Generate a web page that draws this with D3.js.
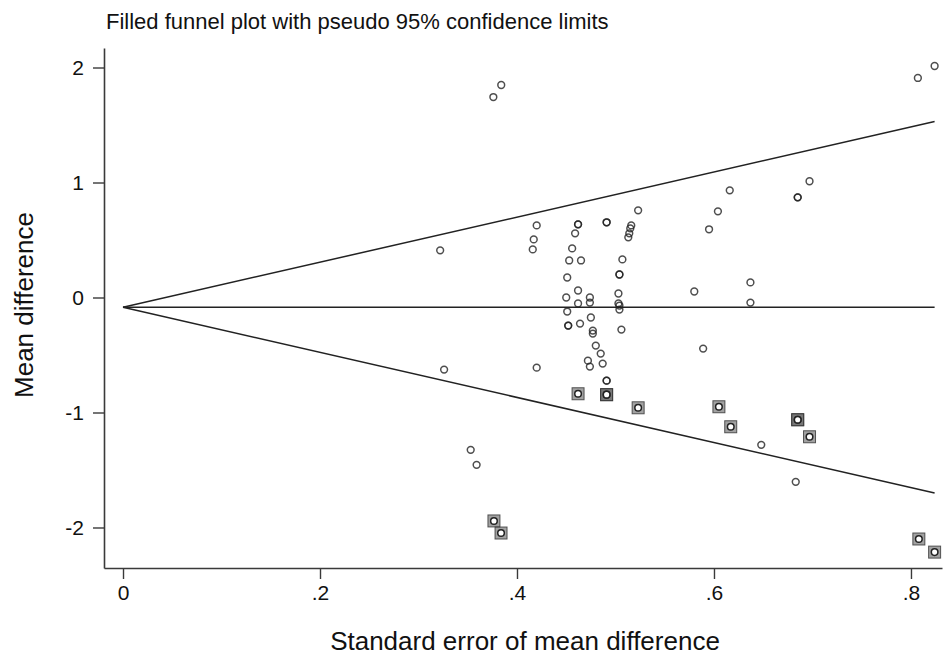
<!DOCTYPE html>
<html>
<head>
<meta charset="utf-8">
<script src="https://cdn.jsdelivr.net/npm/d3@7"></script>
<style>
  html, body { margin: 0; padding: 0; background: #fff; }
  svg { display: block; font-family: "Liberation Sans", Arial, sans-serif; }
</style>
</head>
<body>
<svg id="chart" width="944" height="661"></svg>
<script>
// ---- Data ----
const titleText = "Filled funnel plot with pseudo 95% confidence limits";
const xLabel = "Standard error of mean difference";
const yLabel = "Mean difference";
const xTicks = [0, 0.2, 0.4, 0.6, 0.8];
const xTickLabels = ["0", ".2", ".4", ".6", ".8"];
const yTicks = [-2, -1, 0, 1, 2];
const yTickLabels = ["-2", "-1", "0", "1", "2"];
const pooledEstimate = -0.085;

// observed studies
const obsSe = [0.322,0.326,0.353,0.359,0.376,0.384,0.416,0.417,0.420,0.420,
  0.450,0.451,0.451,0.452,0.452,0.453,0.456,0.459,0.462,0.462,0.462,0.462,
  0.464,0.465,0.472,0.474,0.474,0.474,0.475,0.477,0.477,0.480,0.485,0.487,
  0.491,0.491,0.491,0.491,0.503,0.503,0.504,0.504,0.504,0.504,0.506,0.507,
  0.513,0.514,0.515,0.516,0.523,0.580,0.589,0.595,0.604,0.616,0.637,0.637,
  0.648,0.683,0.685,0.685,0.697,0.807,0.824];
const obsMd = [0.410,-0.627,-1.325,-1.455,1.743,1.848,0.418,0.505,0.627,-0.610,
  0.000,0.174,-0.122,-0.244,-0.244,0.322,0.427,0.558,0.636,0.636,0.061,-0.052,
  -0.227,0.322,-0.549,0.000,-0.044,-0.601,-0.174,-0.288,-0.314,-0.418,-0.488,-0.575,
  -0.723,-0.723,0.654,0.654,0.035,-0.052,-0.070,-0.105,0.200,0.200,-0.279,0.331,
  0.523,0.558,0.601,0.627,0.758,0.052,-0.444,0.593,0.749,0.932,0.131,-0.044,
  -1.281,-1.603,0.871,0.871,1.011,1.909,2.013];

// filled (imputed) studies
const fillSe = [0.462,0.491,0.491,0.523,0.605,0.617,0.685,0.685,0.697,0.3766,0.3838,0.808,0.824];
const fillMd = [-0.837,-0.845,-0.845,-0.959,-0.950,-1.124,-1.063,-1.063,-1.211,-1.943,-2.048,-2.100,-2.214];

// ---- Chart ----
const svg = d3.select("#chart");
const axisColor = "#3a3a3a";

const x = d3.scaleLinear().domain([-0.0193, 0.8315]).range([104, 942]);
const y = d3.scaleLinear().domain([-2.3522, 2.1696]).range([568, 48]);

// title
svg.append("text")
  .attr("x", 106).attr("y", 29)
  .attr("font-size", 22).attr("fill", "#111")
  .text(titleText);

// axes
const xAxis = d3.axisBottom(x).tickValues(xTicks)
  .tickFormat((d, i) => xTickLabels[i]).tickSizeOuter(0).tickSizeInner(11).tickPadding(6);
const gx = svg.append("g").attr("transform", "translate(0,568)").call(xAxis);
gx.select(".domain").attr("stroke", axisColor).attr("stroke-width", 1.6);
gx.selectAll(".tick line").attr("stroke", axisColor).attr("stroke-width", 1.4);
gx.selectAll(".tick text").attr("font-size", 21).attr("fill", "#111")
  .attr("font-family", "Liberation Sans, Arial, sans-serif");

const yAxis = d3.axisLeft(y).tickValues(yTicks)
  .tickFormat((d, i) => yTickLabels[i]).tickSizeOuter(0).tickSizeInner(11).tickPadding(9);
const gy = svg.append("g").attr("transform", "translate(104,0)").call(yAxis);
gy.select(".domain").attr("stroke", axisColor).attr("stroke-width", 1.6);
gy.selectAll(".tick line").attr("stroke", axisColor).attr("stroke-width", 1.4);
gy.selectAll(".tick text").attr("font-size", 21).attr("fill", "#111")
  .attr("font-family", "Liberation Sans, Arial, sans-serif");

// axis titles
svg.append("text")
  .attr("x", 525).attr("y", 650)
  .attr("text-anchor", "middle").attr("font-size", 26).attr("fill", "#111")
  .text(xLabel);
svg.append("text")
  .attr("transform", "translate(33,305) rotate(-90)")
  .attr("text-anchor", "middle").attr("font-size", 26).attr("fill", "#111")
  .text(yLabel);

// funnel lines
const seMax = d3.max(obsSe.concat(fillSe));
const seLine = [0, seMax];
const line = d3.line().x(d => x(d[0])).y(d => y(d[1]));
const lineG = svg.append("g").attr("fill", "none").attr("stroke", "#222").attr("stroke-width", 1.5);
lineG.append("path").attr("d", line(seLine.map(s => [s, pooledEstimate])));
lineG.append("path").attr("d", line(seLine.map(s => [s, pooledEstimate + 1.96 * s])));
lineG.append("path").attr("d", line(seLine.map(s => [s, pooledEstimate - 1.96 * s])));

// filled studies: squares
const fillData = fillSe.map((s, i) => ({ se: s, md: fillMd[i] }));
svg.append("g").selectAll("rect").data(fillData).join("rect")
  .attr("x", d => x(d.se) - 6).attr("y", d => y(d.md) - 6)
  .attr("width", 12).attr("height", 12)
  .attr("fill", "#555").attr("fill-opacity", 0.55)
  .attr("stroke", "#333").attr("stroke-width", 1).attr("stroke-opacity", 0.8);
svg.append("g").selectAll("circle").data(fillData).join("circle")
  .attr("cx", d => x(d.se)).attr("cy", d => y(d.md)).attr("r", 3.3)
  .attr("fill", "#fff").attr("stroke", "#222").attr("stroke-width", 1.5);

// observed studies: hollow circles
const obsData = obsSe.map((s, i) => ({ se: s, md: obsMd[i] }));
svg.append("g").selectAll("circle").data(obsData).join("circle")
  .attr("cx", d => x(d.se)).attr("cy", d => y(d.md)).attr("r", 3.4)
  .attr("fill", "none").attr("stroke", "#222").attr("stroke-width", 1.5)
  .attr("stroke-opacity", 0.8);
</script>
</body>
</html>
